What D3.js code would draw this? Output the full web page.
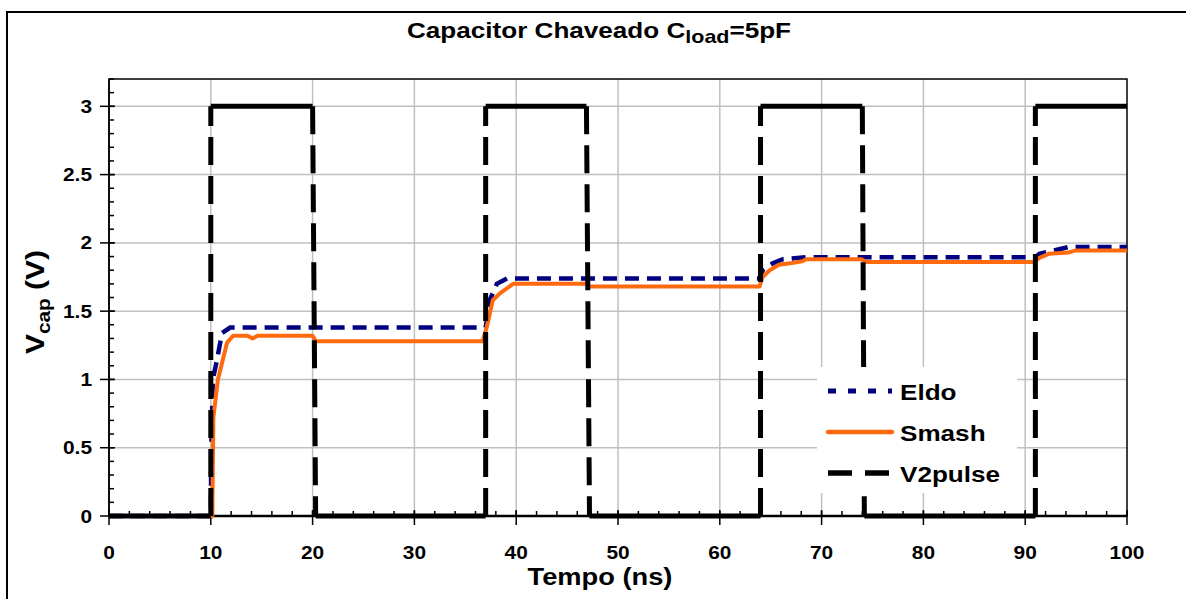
<!DOCTYPE html>
<html>
<head>
<meta charset="utf-8">
<script src="https://cdn.jsdelivr.net/npm/d3@7"></script>
<style>
  body { margin: 0; background: #fff; }
  text { font-family: "Liberation Sans", Arial, sans-serif; font-weight: bold; fill: #000; }
</style>
</head>
<body>
<div id="my_chart"></div>
<script>
// tick values
var timeTicks = [0, 10, 20, 30, 40, 50, 60, 70, 80, 90, 100];
var voltTicks = [0, 0.5, 1, 1.5, 2, 2.5, 3];

// Eldo (ns, V)
var eldoT = [0, 10.0, 10.05, 10.2, 10.6, 11.1, 11.9, 37.0, 37.4, 38.1, 39.1, 64.0, 64.2, 65.2, 66.2, 68.5, 91.0, 91.4, 92.6, 94.3, 100];
var eldoV = [0, 0, 0.5, 1.0, 1.14, 1.34, 1.38, 1.38, 1.58, 1.70, 1.74, 1.74, 1.80, 1.85, 1.88, 1.895, 1.895, 1.92, 1.94, 1.97, 1.97];

// Smash (ns, V)
var smashT = [0, 10.15, 10.25, 10.7, 11.6, 12.2, 13.6, 14.1, 14.6, 20.0, 20.3, 36.7, 37.1, 37.7, 38.4, 39.7, 46.9, 47.2, 63.9, 64.2, 64.9, 65.8, 66.9, 68.1, 68.5, 73.9, 74.4, 90.9, 91.4, 92.3, 94.3, 95.0, 100];
var smashV = [0, 0, 0.72, 1.0, 1.27, 1.32, 1.32, 1.30, 1.32, 1.32, 1.28, 1.28, 1.38, 1.58, 1.63, 1.70, 1.70, 1.68, 1.68, 1.75, 1.80, 1.84, 1.85, 1.865, 1.88, 1.88, 1.86, 1.86, 1.89, 1.92, 1.93, 1.945, 1.945];

// V2pulse (ns, V)
var pulseT = [0, 10, 10, 20, 20.3, 37, 37, 46.9, 47.2, 64, 64, 74, 74.2, 91, 91, 100];
var pulseV = [0, 0, 3, 3, 0, 0, 3, 3, 0, 0, 3, 3, 0, 0, 3, 3];

var seriesNames = ["Eldo", "Smash", "V2pulse"];

var W = 1186, H = 599;
var margin = { left: 109, top: 79, right: 59, bottom: 83 };
var stretch = 1.16;   // the original text is a bit wide

var svg = d3.select("#my_chart").append("svg")
    .attr("width", W).attr("height", H);

// outer border (runs off the right and bottom)
svg.append("rect")
    .attr("x", 7).attr("y", 12).attr("width", 1300).attr("height", 800)
    .attr("fill", "#fff").attr("stroke", "#000").attr("stroke-width", 2);

var x = d3.scaleLinear().domain([0, 100]).range([margin.left, W - margin.right]);
var y = d3.scaleLinear().domain([0, 3.2]).range([H - margin.bottom, margin.top]);

// text helper: stretched, optional subscript
function label(parent, px, py, anchor, size, parts, rotate) {
    var sc = rotate ? "scale(" + stretch + ",1.3) rotate(-90)" : "scale(" + stretch + ",1)";
    var g = parent.append("g").attr("transform", "translate(" + px + "," + py + ") " + sc);
    var t = g.append("text").attr("text-anchor", anchor).style("font-size", size + "px");
    var shift = 0;
    parts.forEach(function(p) {
        var dy = (p.sub ? 5 : 0) - shift;
        shift = p.sub ? 5 : 0;
        t.append("tspan").attr("dy", dy).style("font-size", (p.size || size) + "px").text(p.t);
    });
    return g;
}

// gridlines
svg.append("g").selectAll("line").data(timeTicks.slice(1, -1)).enter().append("line")
    .attr("x1", function(d) { return x(d); }).attr("x2", function(d) { return x(d); })
    .attr("y1", y(3.2)).attr("y2", y(0))
    .attr("stroke", "#c0c0c0").attr("stroke-width", 1.5);
svg.append("g").selectAll("line").data(voltTicks.slice(1)).enter().append("line")
    .attr("x1", x(0)).attr("x2", x(100))
    .attr("y1", function(d) { return y(d); }).attr("y2", function(d) { return y(d); })
    .attr("stroke", "#c0c0c0").attr("stroke-width", 1.5);

// plot frame
svg.append("rect")
    .attr("x", x(0)).attr("y", y(3.2)).attr("width", x(100) - x(0)).attr("height", y(0) - y(3.2))
    .attr("fill", "none").attr("stroke", "#000").attr("stroke-width", 1.5);

// minor + major ticks
var minorX = d3.range(0, 101, 2), minorY = d3.range(0, 3.21, 0.1);
svg.append("g").selectAll("line").data(minorX).enter().append("line")
    .attr("x1", function(d) { return x(d); }).attr("x2", function(d) { return x(d); })
    .attr("y1", y(0)).attr("y2", y(0) - 5).attr("stroke", "#000").attr("stroke-width", 1.5);
svg.append("g").selectAll("line").data(timeTicks).enter().append("line")
    .attr("x1", function(d) { return x(d); }).attr("x2", function(d) { return x(d); })
    .attr("y1", y(0) - 6).attr("y2", y(0) + 9).attr("stroke", "#000").attr("stroke-width", 1.5);
svg.append("g").selectAll("line").data(minorY).enter().append("line")
    .attr("x1", x(0)).attr("x2", x(0) + 5)
    .attr("y1", function(d) { return y(d); }).attr("y2", function(d) { return y(d); })
    .attr("stroke", "#000").attr("stroke-width", 1.5);
svg.append("g").selectAll("line").data(voltTicks).enter().append("line")
    .attr("x1", x(0) - 9).attr("x2", x(0) + 6)
    .attr("y1", function(d) { return y(d); }).attr("y2", function(d) { return y(d); })
    .attr("stroke", "#000").attr("stroke-width", 1.5);
svg.append("line").attr("x1", x(0)).attr("x2", x(100)).attr("y1", y(0)).attr("y2", y(0))
    .attr("stroke", "#000").attr("stroke-width", 2.5);
svg.append("line").attr("x1", x(0)).attr("x2", x(0)).attr("y1", y(0)).attr("y2", y(3.2))
    .attr("stroke", "#000").attr("stroke-width", 1.5);

// tick labels
timeTicks.forEach(function(d) { label(svg, x(d), 559, "middle", 18, [{ t: String(d) }]); });
voltTicks.forEach(function(d) { label(svg, 92, y(d) + 6.5, "end", 18, [{ t: String(d) }]); });

// series
var line = d3.line().x(function(d) { return x(d[0]); }).y(function(d) { return y(d[1]); });
var eldo = eldoT.map(function(t, i) { return [t, eldoV[i]]; });
var smash = smashT.map(function(t, i) { return [t, smashV[i]]; });
var pulse = pulseT.map(function(t, i) { return [t, pulseV[i]]; });

svg.append("path").datum(eldo).attr("d", line)
    .attr("fill", "none").attr("stroke", "#000080").attr("stroke-width", 4.5)
    .attr("stroke-dasharray", "14,8");
svg.append("path").datum(smash).attr("d", line)
    .attr("fill", "none").attr("stroke", "#ff6a0e").attr("stroke-width", 4)
    .attr("stroke-linejoin", "round");

// pulse: each segment restarts the dash, flat runs show solid, edges dashed
var segs = d3.pairs(pulse);
svg.append("g").selectAll("path").data(segs).enter().append("path")
    .attr("d", function(s) { return line(s); })
    .attr("fill", "none").attr("stroke", "#000").attr("stroke-width", 5)
    .attr("stroke-dasharray", function(s) { return s[0][1] === s[1][1] ? null : "28,11"; });

// legend
var lg = svg.append("g");
lg.append("rect").attr("x", 817).attr("y", 367).attr("width", 200).attr("height", 126).attr("fill", "#fff");
var legStyle = [
    { color: "#000080", width: 5, dash: "8,12" },
    { color: "#ff6a0e", width: 4.5, dash: null },
    { color: "#000", width: 5.5, dash: "24,13" }
];
seriesNames.forEach(function(n, i) {
    var cy = 391 + i * 41;
    lg.append("line").attr("x1", 828).attr("x2", 892).attr("y1", cy).attr("y2", cy)
        .attr("stroke", legStyle[i].color).attr("stroke-width", legStyle[i].width)
        .attr("stroke-linecap", legStyle[i].dash ? "butt" : "round")
        .attr("stroke-dasharray", legStyle[i].dash);
    label(lg, 900, cy + 9, "start", 22.5, [{ t: n }]);
});

// titles
label(svg, 599, 38, "middle", 22.5, [{ t: "Capacitor Chaveado C" }, { t: "load", sub: true, size: 18.5 }, { t: "=5pF" }]);
label(svg, 600, 585, "middle", 23.5, [{ t: "Tempo (ns)" }]);
label(svg, 44, 302, "middle", 23, [{ t: "V" }, { t: "cap", sub: true, size: 16 }, { t: " (V)" }], true);
</script>
</body>
</html>
